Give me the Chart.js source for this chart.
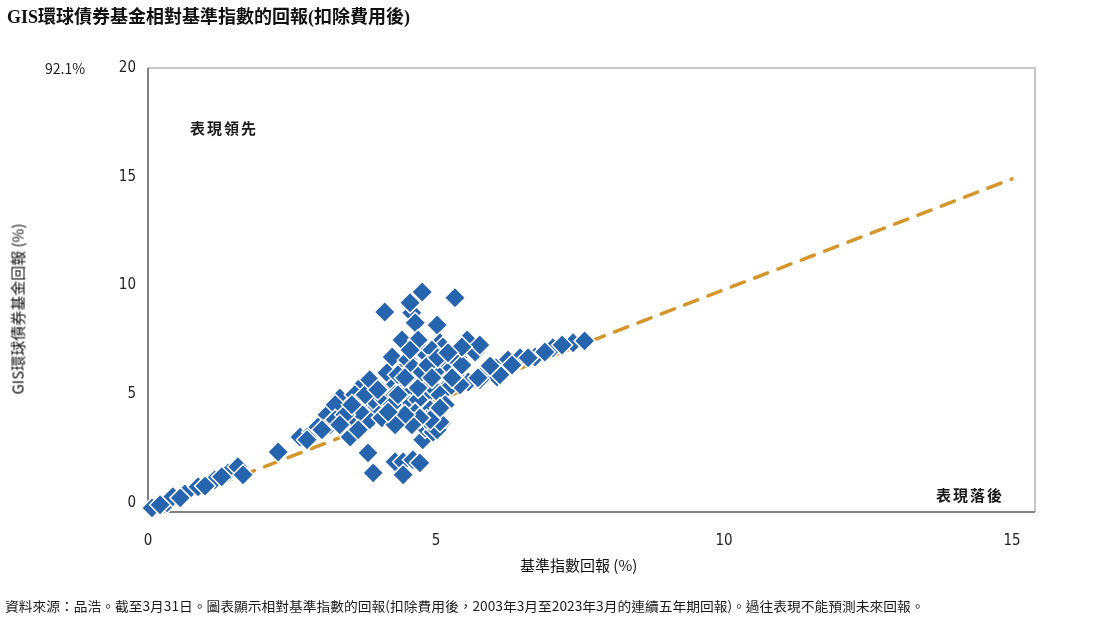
<!DOCTYPE html>
<html lang="zh-Hant">
<head>
<meta charset="utf-8">
<title>GIS環球債券基金相對基準指數的回報</title>
<script src="https://cdn.jsdelivr.net/npm/chart.js@4.4.1/dist/chart.umd.min.js"></script>
<style>
    html, body { margin: 0; padding: 0; background: #fff; }
    #wrap { position: relative; width: 1100px; height: 640px; overflow: hidden; }
    #chart { position: absolute; left: 0; top: 0; }
    .txt { position: absolute; white-space: nowrap; color: #1a1a1a;
           font-family: "Liberation Sans Narrow", "Noto Sans CJK TC", sans-serif; }
    #title { left: 7px; top: 2px; font-size: 18px; font-weight: bold;
             font-family: "Liberation Serif", "Noto Sans CJK TC", serif; color: #111; }
    #stray { left: 45px; top: 58px; font-size: 14px; }
    #ytitle { left: 17px; top: 309px; font-size: 15px; color: #111; transform: translate(-50%, -50%) rotate(-90deg); }
    #xtitle { left: 520px; top: 554px; font-size: 15px; color: #111; }
    #lead { left: 190px; top: 117px; font-size: 15px; font-weight: bold; letter-spacing: 2px; }
    #lag { left: 936px; top: 484px; font-size: 15px; font-weight: bold; letter-spacing: 2px; }
    #note { left: 5px; top: 596px; font-size: 13px; transform-origin: left center; }
</style>
</head>
<body>
<div id="wrap">
    <canvas id="chart" width="1100" height="640"></canvas>
    <div class="txt" id="title">GIS環球債券基金相對基準指數的回報(扣除費用後)</div>
    <div class="txt" id="stray">92.1%</div>
    <div class="txt" id="ytitle">GIS環球債券基金回報 (%)</div>
    <div class="txt" id="xtitle">基準指數回報 (%)</div>
    <div class="txt" id="lead">表現領先</div>
    <div class="txt" id="lag">表現落後</div>
    <div class="txt" id="note">資料來源：品浩。截至3月31日。圖表顯示相對基準指數的回報(扣除費用後，2003年3月至2023年3月的連續五年期回報)。過往表現不能預測未來回報。</div>
</div>
<script>
// Datos: retorno del índice (x) y del fondo (y), en %
const benchmarkReturns = [
    0.07, 0.33, 0.43, 0.64, 0.87, 1.16, 1.39, 1.56, 1.65, 2.26,
    2.64, 2.85, 2.95, 3.11, 3.33, 3.47, 3.59, 3.51, 3.73, 3.73,
    3.85, 3.98, 3.91, 4.11, 4.15, 4.24, 4.25, 4.38, 4.41, 4.43,
    4.51, 4.58, 4.64, 4.67, 4.72, 4.76, 4.81, 4.84, 4.90, 5.02,
    5.07, 5.10, 5.16, 5.19, 5.33, 4.77, 4.81, 4.95, 3.82, 3.91,
    4.29, 4.43, 4.43, 4.60, 4.72, 5.54, 5.68, 5.38, 5.24, 4.60,
    4.51, 5.24, 5.56, 5.89, 6.06, 5.76, 6.25, 6.46, 6.72, 7.03,
    7.38, 7.58, 5.12, 4.84, 5.02, 5.07, 5.30, 3.16, 3.25, 3.59,
    3.68, 4.03, 4.11, 4.20, 4.29, 4.46, 4.55, 4.69, 4.64, 4.90,
    4.98, 5.07, 5.16, 5.33, 5.42, 5.45, 4.93, 4.69, 4.34, 4.55,
    5.73, 6.04, 6.32, 6.60, 6.89, 7.19, 6.11, 5.94, 5.76, 5.45,
    3.25, 3.42, 3.54, 3.77, 3.85, 3.99, 4.06, 4.24, 4.34, 4.46,
    4.55, 4.69, 4.76, 4.86, 4.93, 5.03, 5.21, 5.28, 5.07, 4.90,
    4.72, 4.58, 4.46, 4.29, 4.17, 3.65, 3.33, 3.02, 2.76, 0.21,
    0.56, 0.99, 1.28
];
const fundReturns = [
    -0.23, 0.00, 0.28, 0.41, 0.74, 1.06, 1.38, 1.66, 1.29, 2.34,
    3.03, 3.26, 3.49, 4.05, 4.83, 4.37, 3.68, 3.03, 5.43, 4.28,
    3.82, 4.41, 4.74, 8.78, 5.98, 6.71, 5.33, 4.37, 7.49, 6.11,
    6.57, 8.74, 8.28, 5.66, 7.17, 9.70, 4.87, 6.80, 4.28, 8.18,
    7.36, 3.68, 6.44, 5.33, 9.43, 2.90, 3.45, 3.26, 2.30, 1.38,
    1.89, 1.89, 1.29, 1.98, 1.84, 7.49, 6.94, 6.67, 6.11, 6.21,
    5.33, 5.33, 5.56, 6.11, 5.79, 5.66, 6.57, 6.67, 6.71, 7.13,
    7.36, 7.45, 7.17, 3.82, 3.36, 3.72, 6.71, 3.59, 4.51, 4.97,
    4.18, 5.20, 4.74, 4.05, 4.97, 4.97, 4.51, 4.74, 4.14, 5.43,
    6.02, 4.97, 4.51, 5.89, 5.43, 6.34, 7.03, 7.49, 5.89, 9.20,
    5.75, 6.21, 6.34, 6.67, 6.94, 7.26, 5.89, 6.30, 7.26, 7.17,
    3.82, 4.05, 4.51, 4.97, 5.66, 5.20, 3.91, 4.51, 4.97, 5.75,
    7.03, 5.29, 6.02, 6.34, 5.75, 6.67, 6.90, 5.75, 4.37, 3.82,
    3.91, 3.59, 4.05, 3.59, 4.18, 3.36, 3.59, 3.36, 2.90, -0.09,
    0.23, 0.78, 1.20
];
// Línea de referencia discontinua
const refLineX = [0, 15];
const refLineY = [-0.4, 14.9];
const xTicks = [0, 5, 10, 15];
const yTicks = [0, 5, 10, 15, 20];

document.addEventListener("DOMContentLoaded", () => {
    // Ajustar el ancho de la nota al pie
    const note = document.getElementById('note');
    note.style.transform = 'scaleX(' + (920 / note.scrollWidth) + ')';

    const tickFont = { family: '"Liberation Sans Narrow", "DejaVu Sans Condensed", sans-serif', size: 15 };

    // Marco del área del gráfico
    const framePlugin = {
        id: 'frame',
        beforeDatasetsDraw(chart) {
            const { ctx, chartArea: a } = chart;
            ctx.save();
            ctx.lineWidth = 2;
            ctx.strokeStyle = '#c6c6c6';
            ctx.beginPath();
            ctx.moveTo(a.left, a.top);
            ctx.lineTo(a.right, a.top);
            ctx.lineTo(a.right, a.bottom);
            ctx.stroke();
            ctx.strokeStyle = '#808080';
            ctx.beginPath();
            ctx.moveTo(a.left, a.top);
            ctx.lineTo(a.left, a.bottom);
            ctx.lineTo(a.right, a.bottom);
            ctx.stroke();
            ctx.restore();
        }
    };

    const ctx = document.getElementById('chart').getContext('2d');
    new Chart(ctx, {
        type: 'scatter',
        data: {
            datasets: [
                {
                    type: 'line',
                    label: 'Referencia',
                    data: refLineX.map((x, i) => ({ x: x, y: refLineY[i] })),
                    borderColor: '#d4952b',
                    borderWidth: 3.5,
                    borderDash: [14, 11],
                    borderCapStyle: 'round',
                    pointRadius: 0,
                    fill: false,
                    order: 2,
                    clip: false
                },
                {
                    label: 'GIS',
                    data: benchmarkReturns.map((x, i) => ({ x: x, y: fundReturns[i] })),
                    pointStyle: 'rectRot',
                    pointRadius: 10.5,
                    pointHoverRadius: 10.5,
                    backgroundColor: '#2664ad',
                    borderColor: '#ffffff',
                    borderWidth: 1.5,
                    order: 1,
                    clip: false
                }
            ]
        },
        options: {
            responsive: false,
            animation: false,
            events: [],
            layout: { padding: { top: 68, right: 65, left: 0, bottom: 0 } },
            plugins: {
                legend: { display: false },
                tooltip: { enabled: false }
            },
            scales: {
                x: {
                    type: 'linear',
                    min: 0,
                    max: 15.4,
                    afterFit: (scale) => { scale.height = 128; },
                    afterBuildTicks: (scale) => { scale.ticks = xTicks.map(v => ({ value: v })); },
                    grid: { display: false, drawTicks: false },
                    border: { display: false },
                    ticks: { font: tickFont, color: '#222', padding: 20, maxRotation: 0 }
                },
                y: {
                    type: 'linear',
                    min: -0.42,
                    max: 20,
                    afterFit: (scale) => { scale.width = 148; },
                    afterBuildTicks: (scale) => { scale.ticks = yTicks.map(v => ({ value: v })); },
                    grid: { display: false, drawTicks: false },
                    border: { display: false },
                    ticks: { font: tickFont, color: '#222', padding: 12 }
                }
            }
        },
        plugins: [framePlugin]
    });
});
</script>
</body>
</html>
